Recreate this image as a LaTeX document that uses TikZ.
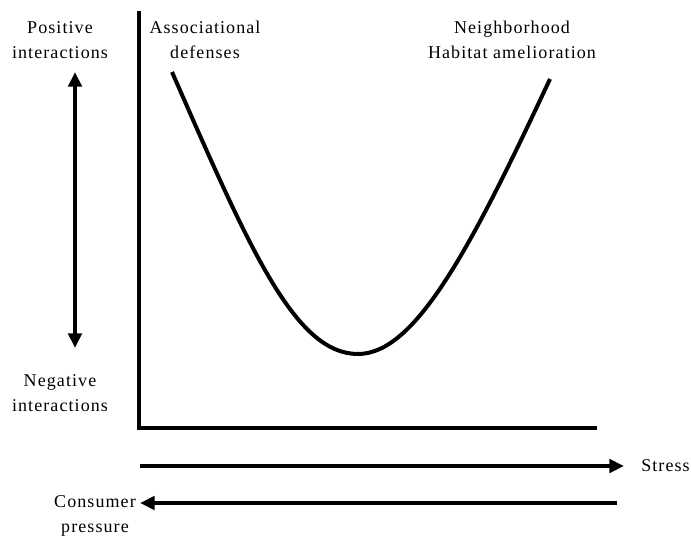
\documentclass[tikz,border=0pt]{standalone}
\usepackage{fontspec}
\setmainfont[LetterSpace=6]{Liberation Serif}
\usetikzlibrary{arrows.meta,positioning}

\begin{document}
\begin{tikzpicture}[x=0.75pt,y=-0.75pt,
  lbl/.style={align=center, inner sep=0pt, font=\fontsize{13.5}{19}\selectfont},
  axis/.style={line width=3pt},
  thick arrow/.style={line width=3pt, -{Triangle[length=11pt,width=10pt]}},
  both arrow/.style={line width=3pt, {Triangle[length=11pt,width=10pt]}-{Triangle[length=11pt,width=10pt]}}]
\useasboundingbox (0,0) rectangle (691,541);
% axes
\coordinate (top) at (139,11);
\coordinate (origin) at (139,428);
\coordinate (xend) at (597,428);
\draw[axis, line join=miter] (top) -- (origin) -- (xend);
% labels on the left
\node[lbl] (pos) at (60,40) {Positive\\interactions};
\node[lbl] (neg) at (60,393) {Negative\\interactions};
\coordinate (up) at (75,72);
\coordinate (down) at (75,348);
\draw[both arrow] (down) -- (up);
% curve
\node[lbl] (assoc) at (205,40) {Associational\\defenses};
\node[lbl] (neigh) at (512,40) {Neighborhood\\Habitat amelioration};
\coordinate (cstart) at (172,72);
\coordinate (cmin) at (358,354);
\coordinate (cend) at (550,79);
\draw[line width=3pt] (cstart) .. controls (250,250) and (295,354) .. (cmin)
  .. controls (415,354) and (470,250) .. (cend);
% gradients below
\coordinate (s0) at (140,466);
\coordinate (s1) at (624,466);
\node[lbl, anchor=west] (stress) at (641,466) {Stress};
\draw[thick arrow] (s0) -- (s1);
\coordinate (c0) at (617,503);
\coordinate (c1) at (140,503);
\node[lbl] (cons) at (95,516) {Consumer\\pressure};
\draw[thick arrow] (c0) -- (c1);
\end{tikzpicture}
\end{document}
